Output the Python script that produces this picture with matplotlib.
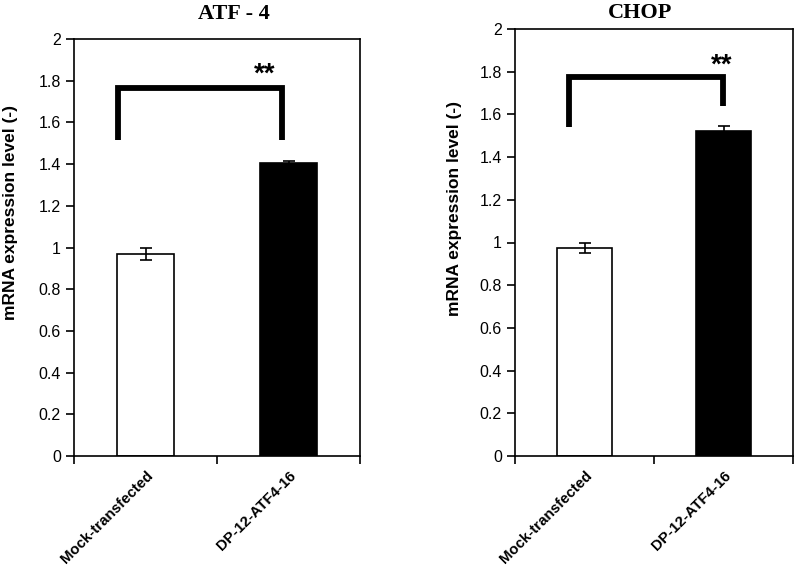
import matplotlib
matplotlib.use("Agg")
import matplotlib.pyplot as plt
import matplotlib.transforms as mtransforms
from matplotlib.ticker import FixedLocator, NullFormatter

# data
categories = ["Mock-transfected", "DP-12-ATF4-16"]
atf4_values = [0.97, 1.405]
atf4_errors = [0.03, 0.01]
chop_values = [0.975, 1.52]
chop_errors = [0.025, 0.025]
bar_colors = ["white", "black"]
y_ticks = [0, 0.2, 0.4, 0.6, 0.8, 1, 1.2, 1.4, 1.6, 1.8, 2]
y_tick_labels = ["0", "0.2", "0.4", "0.6", "0.8", "1", "1.2", "1.4", "1.6", "1.8", "2"]
ylabel = "mRNA expression level (-)"

# significance brackets: x left, x right, top, left foot, right foot
atf4_bracket = [-0.19, 0.955, 1.766, 1.515, 1.515]
chop_bracket = [-0.11, 0.994, 1.776, 1.54, 1.64]
atf4_star_x, chop_star_x = 0.83, 0.99

plt.rcParams["font.family"] = ["Liberation Sans", "DejaVu Sans"]

fig = plt.figure(figsize=(7.95, 5.65), dpi=100)
W, H = 795.0, 565.0


def make_axes(left, right, top, bottom):
    return fig.add_axes([left / W, 1 - bottom / H, (right - left) / W, (bottom - top) / H])


def draw_panel(ax, values, errors, bracket, star_x):
    x = list(range(len(categories)))
    ax.bar(x, values, width=0.4, color=bar_colors, edgecolor="black", linewidth=1.2,
           yerr=errors, error_kw=dict(ecolor="black", elinewidth=1.2, capsize=4, capthick=1.2))
    ax.set_xlim(-0.5, len(categories) - 0.5)
    ax.set_ylim(0, 2)
    ax.set_yticks(y_ticks)
    ax.set_yticklabels(y_tick_labels, fontsize=11.5)
    ax.xaxis.set_major_locator(FixedLocator([-0.5, 0.5, 1.5]))
    ax.xaxis.set_major_formatter(NullFormatter())
    ax.xaxis.set_minor_locator(FixedLocator(x))
    ax.set_xticklabels(categories, minor=True, rotation=45, ha="right",
                       rotation_mode="anchor", fontsize=10.8, fontweight="bold")
    shift = mtransforms.ScaledTranslation(-4 / 100, 0, fig.dpi_scale_trans)
    for lbl in ax.get_xminorticklabels():
        lbl.set_transform(lbl.get_transform() + shift)
    ax.tick_params(axis="x", which="minor", length=0, pad=9)
    ax.tick_params(axis="both", which="major", direction="out", length=6, width=1.2)
    for sp in ax.spines.values():
        sp.set_linewidth(1.2)
    xl, xr, top, fl, fr = bracket
    ax.plot([xl, xl, xr, xr], [fl, top, top, fr], color="black", linewidth=4.2,
            solid_joinstyle="miter", solid_capstyle="butt")
    ax.text(star_x, 1.83, "**", ha="center", va="center", fontsize=20, fontweight="bold")


ax1 = make_axes(74, 360, 39, 456)
draw_panel(ax1, atf4_values, atf4_errors, atf4_bracket, atf4_star_x)
ax2 = make_axes(515, 793, 29, 456)
draw_panel(ax2, chop_values, chop_errors, chop_bracket, chop_star_x)

fig.text(11 / W, 1 - 212 / H, ylabel, rotation=90, ha="center", va="center",
         fontsize=12.5, fontweight="bold")
fig.text(455 / W, 1 - 208 / H, ylabel, rotation=90, ha="center", va="center",
         fontsize=12.5, fontweight="bold")
fig.text(234 / W, 1 - 14 / H, "ATF - 4", ha="center", va="center",
         fontsize=16, fontweight="bold", family="Liberation Serif")
fig.text(640 / W, 1 - 13 / H, "CHOP", ha="center", va="center",
         fontsize=16, fontweight="bold", family="Liberation Serif")

fig.savefig("out.png", dpi=100)
